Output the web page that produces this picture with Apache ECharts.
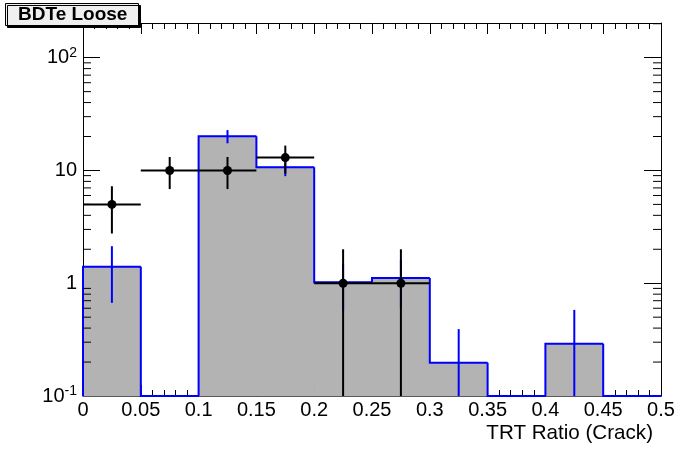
<!DOCTYPE html>
<html>
<head>
<meta charset="utf-8">
<script src="https://cdn.jsdelivr.net/npm/echarts@6/dist/echarts.min.js"></script>
<style>
html,body{margin:0;padding:0;background:#fff;}
#chart{width:696px;height:472px;}
</style>
</head>
<body>
<div id="chart"></div>
<script>
// ---- data ----
const binLow  = [0, 0.05, 0.10, 0.15, 0.20, 0.25, 0.30, 0.35, 0.40, 0.45];
const binHigh = [0.05, 0.10, 0.15, 0.20, 0.25, 0.30, 0.35, 0.40, 0.45, 0.50];
const mcValues = [1.40, 0, 20.1, 10.7, 1.02, 1.11, 0.197, 0, 0.29, 0];
const mcErrors = [0.73, 0, 2.7, 1.8, 0.45, 0.5, 0.195, 0, 0.29, 0];
const dataValues = [5, 10, 10, 13, 1, 1, 0, 0, 0, 0];
const dataErrors = [2.24, 3.16, 3.16, 3.61, 1, 1, 0, 0, 0, 0];
const yMinorTicks = [0.2,0.3,0.4,0.5,0.6,0.7,0.8,0.9, 2,3,4,5,6,7,8,9, 20,30,40,50,60,70,80,90, 200];
const titleText = 'BDTe Loose';
const xTitle = 'TRT Ratio (Crack)';

const FONT = 'Liberation Sans, Arial, Helvetica, sans-serif';

const mcItems = binLow.map((lo, i) => [lo, binHigh[i], mcValues[i], i > 0 ? mcValues[i-1] : 0, mcErrors[i], i === binLow.length - 1 ? 1 : 0]);
const dataItems = binLow.map((lo, i) => [lo, binHigh[i], dataValues[i], dataErrors[i]]);

function yOf(api, params, v) {
  const cs = params.coordSys;
  const bottom = cs.y + cs.height;
  if (!(v > 0)) return bottom;
  const y = api.coord([0, v])[1];
  return Math.min(y, bottom);
}

function renderFill(params, api) {
  const lo = api.value(0), hi = api.value(1), v = api.value(2);
  if (!(v > 0)) return null;
  const cs = params.coordSys;
  const bottom = cs.y + cs.height;
  const x1 = api.coord([lo, 1])[0], x2 = api.coord([hi, 1])[0];
  const y = yOf(api, params, v);
  return {type: 'rect', shape: {x: x1, y: y, width: x2 - x1, height: bottom - y}, style: {fill: '#b3b3b3', stroke: '#b3b3b3', lineWidth: 1}, silent: true};
}

function renderOutline(params, api) {
  const lo = api.value(0), hi = api.value(1), v = api.value(2), prev = api.value(3), last = api.value(5);
  const cs = params.coordSys;
  const bottom = cs.y + cs.height;
  const x1 = api.coord([lo, 1])[0], x2 = api.coord([hi, 1])[0];
  const y = yOf(api, params, v), yp = yOf(api, params, prev);
  const pts = [[x1, yp], [x1, y], [x2, y]];
  if (last) pts.push([x2, bottom]);
  const children = [{type: 'polyline', shape: {points: pts}, style: {stroke: '#0000ff', lineWidth: 2, fill: null}}];
  const e = api.value(4);
  if (v > 0 && e > 0) {
    const xc = (x1 + x2) / 2;
    children.push({type: 'line', shape: {x1: xc, y1: yOf(api, params, v - e), x2: xc, y2: yOf(api, params, v + e)}, style: {stroke: '#0000ff', lineWidth: 2}});
  }
  return {type: 'group', children: children};
}

function renderData(params, api) {
  const lo = api.value(0), hi = api.value(1), v = api.value(2), e = api.value(3);
  if (!(v > 0)) return null;
  const x1 = api.coord([lo, 1])[0], x2 = api.coord([hi, 1])[0];
  const xc = (x1 + x2) / 2;
  const y = yOf(api, params, v);
  return {type: 'group', children: [
    {type: 'line', shape: {x1: x1, y1: y, x2: x2, y2: y}, style: {stroke: '#000', lineWidth: 2}},
    {type: 'line', shape: {x1: xc, y1: yOf(api, params, v - e), x2: xc, y2: yOf(api, params, v + e)}, style: {stroke: '#000', lineWidth: 2}},
    {type: 'circle', shape: {cx: xc, cy: y, r: 4.5}, style: {fill: '#000'}}
  ]};
}

function renderMinor(params, api) {
  const v = api.value(0);
  const cs = params.coordSys;
  const y = api.coord([0, v])[1];
  if (y < cs.y - 0.5) return null;
  const xl = cs.x, xr = cs.x + cs.width;
  return {type: 'group', children: [
    {type: 'line', shape: {x1: xl, y1: y, x2: xl + 8, y2: y}, style: {stroke: '#000', lineWidth: 1}},
    {type: 'line', shape: {x1: xr - 8, y1: y, x2: xr, y2: y}, style: {stroke: '#000', lineWidth: 1}}
  ]};
}

function yLabel(v) {
  const p = Math.round(Math.log10(v));
  if (p === 0) return '{n|1}';
  if (p === 1) return '{n|10}';
  return '{n|10}{s|' + p + '}';
}

const xAxisBase = {
  type: 'value', min: 0, max: 0.5, interval: 0.05,
  axisLine: {show: true, onZero: false, lineStyle: {color: '#000', width: 1}},
  axisTick: {show: true, inside: true, length: 11, lineStyle: {color: '#000', width: 1}},
  minorTick: {show: true, splitNumber: 5, length: 6, lineStyle: {color: '#000', width: 1}},
  splitLine: {show: false},
  minorSplitLine: {show: false}
};

const yAxisBase = {
  type: 'log', logBase: 10, min: 0.1, max: 203,
  axisLine: {show: true, onZero: false, lineStyle: {color: '#000', width: 1}},
  axisTick: {show: true, inside: true, length: 17, lineStyle: {color: '#000', width: 1}},
  splitLine: {show: false}
};

const chart = echarts.init(document.getElementById('chart'), null, {renderer: 'canvas'});
chart.setOption({
  animation: false,
  backgroundColor: '#fff',
  title: {
    text: titleText, left: 5, top: 3,
    padding: [2, 11, 2, 13],
    backgroundColor: '#f0f0f0', borderColor: '#000', borderWidth: 1,
    shadowColor: '#000', shadowOffsetX: 2, shadowOffsetY: 2, shadowBlur: 0,
    textStyle: {fontFamily: FONT, fontSize: 19, fontWeight: 'bold', color: '#000', lineHeight: 19}
  },
  grid: {left: 83, right: 35, top: 23, bottom: 76, containLabel: false, show: false},
  xAxis: [
    Object.assign({}, xAxisBase, {
      position: 'bottom',
      axisLabel: {show: true, margin: 4, fontFamily: FONT, fontSize: 20, color: '#000'},
      name: xTitle, nameLocation: 'end', nameGap: -8,
      nameTextStyle: {fontFamily: FONT, fontSize: 20.6, color: '#000', align: 'right', verticalAlign: 'top', padding: [27, 0, 0, 0]}
    }),
    Object.assign({}, xAxisBase, {position: 'top', axisLabel: {show: false}})
  ],
  yAxis: [
    Object.assign({}, yAxisBase, {
      position: 'left',
      axisLabel: {show: true, margin: 6, showMaxLabel: false, formatter: yLabel,
        rich: {
          n: {fontFamily: FONT, fontSize: 20, color: '#000', lineHeight: 24},
          s: {fontFamily: FONT, fontSize: 14, color: '#000', verticalAlign: 'top', lineHeight: 14, padding: [0, 0, 10, 0]}
        }}
    }),
    Object.assign({}, yAxisBase, {position: 'right', axisLabel: {show: false}})
  ],
  series: [
    {type: 'custom', name: 'mcfill', xAxisIndex: 0, yAxisIndex: 0, renderItem: renderFill, data: mcItems, clip: false, z: 1, silent: true},
    {type: 'custom', name: 'mcline', xAxisIndex: 0, yAxisIndex: 0, renderItem: renderOutline, data: mcItems, clip: false, z: 2, silent: true},
    {type: 'custom', name: 'data', xAxisIndex: 0, yAxisIndex: 0, renderItem: renderData, data: dataItems, clip: false, z: 3, silent: true},
    {type: 'custom', name: 'minor', xAxisIndex: 0, yAxisIndex: 0, renderItem: renderMinor, data: yMinorTicks.map(v => [v]), clip: false, z: 4, silent: true}
  ]
});
</script>
</body>
</html>
